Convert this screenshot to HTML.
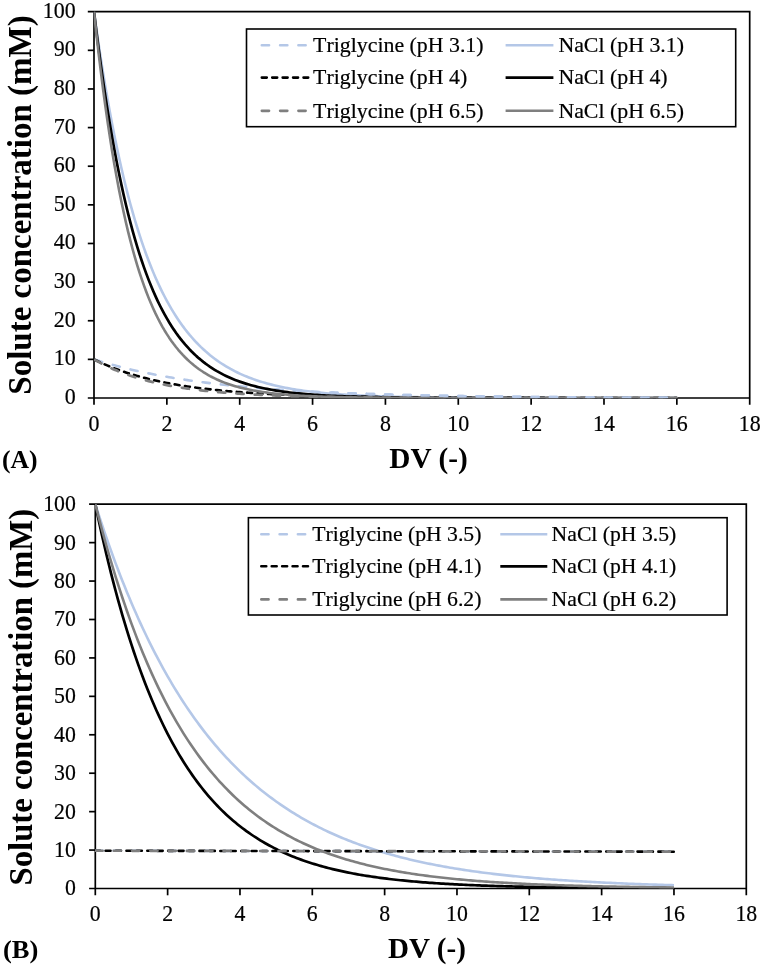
<!DOCTYPE html><html><head><meta charset="utf-8"><title>Diafiltration</title>
<style>html,body{margin:0;padding:0;background:#fff}svg{display:block}text{font-family:"Liberation Serif",serif;font-kerning:none}</style></head><body>
<svg width="762" height="967" viewBox="0 0 762 967">
<rect width="762" height="967" fill="#fff"/>
<g stroke="#000" stroke-width="1.7" fill="none">
<path d="M87.80 11.70 H749.70 V404.80"/>
<path d="M94.00 11.70 V404.80"/>
<path d="M87.80 398.00 H749.70"/>
<path d="M87.80 359.37 H94.00"/>
<path d="M87.80 320.74 H94.00"/>
<path d="M87.80 282.11 H94.00"/>
<path d="M87.80 243.48 H94.00"/>
<path d="M87.80 204.85 H94.00"/>
<path d="M87.80 166.22 H94.00"/>
<path d="M87.80 127.59 H94.00"/>
<path d="M87.80 88.96 H94.00"/>
<path d="M87.80 50.33 H94.00"/>
<path d="M166.86 398.00 V404.80"/>
<path d="M239.71 398.00 V404.80"/>
<path d="M312.57 398.00 V404.80"/>
<path d="M385.42 398.00 V404.80"/>
<path d="M458.28 398.00 V404.80"/>
<path d="M531.13 398.00 V404.80"/>
<path d="M603.99 398.00 V404.80"/>
<path d="M676.84 398.00 V404.80"/>
</g>
<clipPath id="clipA"><rect x="93.70" y="11.40" width="656.30" height="386.90"/></clipPath>
<g fill="none" stroke-linejoin="round" clip-path="url(#clipA)">
<path d="M94.00,359.37 L96.28,360.09 L98.55,360.79 L100.83,361.48 L103.11,362.16 L105.38,362.83 L107.66,363.48 L109.94,364.12 L112.21,364.75 L114.49,365.37 L116.77,365.97 L119.04,366.57 L121.32,367.15 L123.60,367.73 L125.87,368.29 L128.15,368.84 L130.43,369.38 L132.70,369.91 L134.98,370.44 L137.26,370.95 L139.53,371.45 L141.81,371.94 L144.09,372.43 L146.36,372.90 L148.64,373.37 L150.92,373.83 L153.20,374.28 L155.47,374.72 L157.75,375.15 L160.03,375.57 L162.30,375.99 L164.58,376.40 L166.86,376.80 L169.13,377.19 L171.41,377.58 L173.69,377.96 L175.96,378.33 L178.24,378.70 L180.52,379.06 L182.79,379.41 L185.07,379.75 L187.35,380.09 L189.62,380.42 L191.90,380.75 L194.18,381.07 L196.45,381.39 L198.73,381.69 L201.01,382.00 L203.28,382.29 L205.56,382.59 L207.84,382.87 L210.11,383.15 L212.39,383.43 L214.67,383.70 L216.94,383.97 L219.22,384.23 L221.50,384.48 L223.77,384.73 L226.05,384.98 L228.33,385.22 L230.60,385.46 L232.88,385.69 L235.16,385.92 L237.43,386.14 L239.71,386.36 L241.99,386.58 L244.26,386.79 L246.54,387.00 L248.82,387.21 L251.09,387.41 L253.37,387.60 L255.65,387.80 L257.93,387.99 L260.20,388.17 L262.48,388.35 L264.76,388.53 L267.03,388.71 L269.31,388.88 L271.59,389.05 L273.86,389.22 L276.14,389.38 L278.42,389.54 L280.69,389.70 L282.97,389.85 L285.25,390.00 L287.52,390.15 L289.80,390.30 L292.08,390.44 L294.35,390.58 L296.63,390.72 L298.91,390.85 L301.18,390.99 L303.46,391.12 L305.74,391.25 L308.01,391.37 L310.29,391.49 L312.57,391.61 L314.84,391.73 L317.12,391.85 L319.40,391.96 L321.67,392.08 L323.95,392.19 L326.23,392.29 L328.50,392.40 L330.78,392.50 L333.06,392.61 L335.33,392.71 L337.61,392.80 L339.89,392.90 L342.16,393.00 L344.44,393.09 L346.72,393.18 L348.99,393.27 L351.27,393.36 L353.55,393.44 L355.82,393.53 L358.10,393.61 L360.38,393.69 L362.65,393.77 L364.93,393.85 L367.21,393.93 L369.49,394.00 L371.76,394.08 L374.04,394.15 L376.32,394.22 L378.59,394.29 L380.87,394.36 L383.15,394.43 L385.42,394.50 L387.70,394.56 L389.98,394.62 L392.25,394.69 L394.53,394.75 L396.81,394.81 L399.08,394.87 L401.36,394.93 L403.64,394.98 L405.91,395.04 L408.19,395.09 L410.47,395.15 L412.74,395.20 L415.02,395.25 L417.30,395.30 L419.57,395.35 L421.85,395.40 L424.13,395.45 L426.40,395.50 L428.68,395.55 L430.96,395.59 L433.23,395.64 L435.51,395.68 L437.79,395.72 L440.06,395.77 L442.34,395.81 L444.62,395.85 L446.89,395.89 L449.17,395.93 L451.45,395.97 L453.72,396.00 L456.00,396.04 L458.28,396.08 L460.55,396.11 L462.83,396.15 L465.11,396.18 L467.38,396.22 L469.66,396.25 L471.94,396.28 L474.21,396.31 L476.49,396.34 L478.77,396.38 L481.05,396.41 L483.32,396.44 L485.60,396.46 L487.88,396.49 L490.15,396.52 L492.43,396.55 L494.71,396.58 L496.98,396.60 L499.26,396.63 L501.54,396.65 L503.81,396.68 L506.09,396.70 L508.37,396.73 L510.64,396.75 L512.92,396.77 L515.20,396.80 L517.47,396.82 L519.75,396.84 L522.03,396.86 L524.30,396.88 L526.58,396.90 L528.86,396.92 L531.13,396.94 L533.41,396.96 L535.69,396.98 L537.96,397.00 L540.24,397.02 L542.52,397.04 L544.79,397.06 L547.07,397.07 L549.35,397.09 L551.62,397.11 L553.90,397.12 L556.18,397.14 L558.45,397.16 L560.73,397.17 L563.01,397.19 L565.28,397.20 L567.56,397.22 L569.84,397.23 L572.11,397.25 L574.39,397.26 L576.67,397.27 L578.94,397.29 L581.22,397.30 L583.50,397.31 L585.77,397.33 L588.05,397.34 L590.33,397.35 L592.61,397.36 L594.88,397.38 L597.16,397.39 L599.44,397.40 L601.71,397.41 L603.99,397.42 L606.27,397.43 L608.54,397.44 L610.82,397.45 L613.10,397.46 L615.37,397.47 L617.65,397.48 L619.93,397.49 L622.20,397.50 L624.48,397.51 L626.76,397.52 L629.03,397.53 L631.31,397.54 L633.59,397.55 L635.86,397.55 L638.14,397.56 L640.42,397.57 L642.69,397.58 L644.97,397.59 L647.25,397.59 L649.52,397.60 L651.80,397.61 L654.08,397.62 L656.35,397.62 L658.63,397.63 L660.91,397.64 L663.18,397.64 L665.46,397.65 L667.74,397.66 L670.01,397.66 L672.29,397.67 L674.57,397.68 L676.84,397.68" stroke="#b4c7e7" stroke-width="2.6" stroke-linecap="round" stroke-dasharray="7.25 11.05" stroke-dashoffset="-1.30"/>
<path d="M94.00,11.70 L96.28,28.01 L98.55,43.62 L100.83,58.58 L103.11,72.91 L105.38,86.63 L107.66,99.77 L109.94,112.36 L112.21,124.41 L114.49,135.96 L116.77,147.02 L119.04,157.62 L121.32,167.76 L123.60,177.48 L125.87,186.79 L128.15,195.70 L130.43,204.24 L132.70,212.42 L134.98,220.25 L137.26,227.75 L139.53,234.94 L141.81,241.82 L144.09,248.42 L146.36,254.73 L148.64,260.78 L150.92,266.57 L153.20,272.12 L155.47,277.43 L157.75,282.52 L160.03,287.39 L162.30,292.06 L164.58,296.53 L166.86,300.82 L169.13,304.92 L171.41,308.85 L173.69,312.61 L175.96,316.21 L178.24,319.67 L180.52,322.97 L182.79,326.14 L185.07,329.17 L187.35,332.08 L189.62,334.86 L191.90,337.52 L194.18,340.08 L196.45,342.52 L198.73,344.86 L201.01,347.11 L203.28,349.25 L205.56,351.31 L207.84,353.28 L210.11,355.17 L212.39,356.98 L214.67,358.71 L216.94,360.37 L219.22,361.96 L221.50,363.48 L223.77,364.93 L226.05,366.33 L228.33,367.67 L230.60,368.95 L232.88,370.17 L235.16,371.35 L237.43,372.47 L239.71,373.55 L241.99,374.58 L244.26,375.57 L246.54,376.52 L248.82,377.42 L251.09,378.29 L253.37,379.12 L255.65,379.92 L257.93,380.68 L260.20,381.42 L262.48,382.12 L264.76,382.79 L267.03,383.43 L269.31,384.04 L271.59,384.63 L273.86,385.20 L276.14,385.74 L278.42,386.25 L280.69,386.75 L282.97,387.22 L285.25,387.68 L287.52,388.12 L289.80,388.53 L292.08,388.93 L294.35,389.31 L296.63,389.68 L298.91,390.03 L301.18,390.37 L303.46,390.69 L305.74,391.00 L308.01,391.29 L310.29,391.58 L312.57,391.85 L314.84,392.11 L317.12,392.36 L319.40,392.60 L321.67,392.82 L323.95,393.04 L326.23,393.25 L328.50,393.45 L330.78,393.64 L333.06,393.83 L335.33,394.00 L337.61,394.17 L339.89,394.33 L342.16,394.49 L344.44,394.64 L346.72,394.78 L348.99,394.91 L351.27,395.05 L353.55,395.17 L355.82,395.29 L358.10,395.40 L360.38,395.51 L362.65,395.62 L364.93,395.72 L367.21,395.82 L369.49,395.91 L371.76,396.00 L374.04,396.08 L376.32,396.16 L378.59,396.24 L380.87,396.31 L383.15,396.38 L385.42,396.45 L387.70,396.52 L389.98,396.58 L392.25,396.64 L394.53,396.70 L396.81,396.75 L399.08,396.81 L401.36,396.86 L403.64,396.90 L405.91,396.95 L408.19,396.99 L410.47,397.04 L412.74,397.08 L415.02,397.12 L417.30,397.15 L419.57,397.19 L421.85,397.22 L424.13,397.26 L426.40,397.29 L428.68,397.32 L430.96,397.35 L433.23,397.37 L435.51,397.40 L437.79,397.43 L440.06,397.45 L442.34,397.47 L444.62,397.50 L446.89,397.52 L449.17,397.54 L451.45,397.56 L453.72,397.58 L456.00,397.59 L458.28,397.61 L460.55,397.63 L462.83,397.64 L465.11,397.66 L467.38,397.67 L469.66,397.69 L471.94,397.70 L474.21,397.71 L476.49,397.72 L478.77,397.74 L481.05,397.75 L483.32,397.76 L485.60,397.77 L487.88,397.78 L490.15,397.79 L492.43,397.80 L494.71,397.80 L496.98,397.81 L499.26,397.82 L501.54,397.83 L503.81,397.84 L506.09,397.84 L508.37,397.85 L510.64,397.86 L512.92,397.86 L515.20,397.87 L517.47,397.87 L519.75,397.88 L522.03,397.88 L524.30,397.89 L526.58,397.89 L528.86,397.90 L531.13,397.90 L533.41,397.91 L535.69,397.91 L537.96,397.91 L540.24,397.92 L542.52,397.92 L544.79,397.92 L547.07,397.93 L549.35,397.93 L551.62,397.93 L553.90,397.94 L556.18,397.94 L558.45,397.94 L560.73,397.94 L563.01,397.95 L565.28,397.95 L567.56,397.95 L569.84,397.95 L572.11,397.95 L574.39,397.96 L576.67,397.96 L578.94,397.96 L581.22,397.96 L583.50,397.96 L585.77,397.97 L588.05,397.97 L590.33,397.97 L592.61,397.97 L594.88,397.97 L597.16,397.97 L599.44,397.97 L601.71,397.97 L603.99,397.98 L606.27,397.98 L608.54,397.98 L610.82,397.98 L613.10,397.98 L615.37,397.98 L617.65,397.98 L619.93,397.98 L622.20,397.98 L624.48,397.98 L626.76,397.98 L629.03,397.98 L631.31,397.99 L633.59,397.99 L635.86,397.99 L638.14,397.99 L640.42,397.99 L642.69,397.99 L644.97,397.99 L647.25,397.99 L649.52,397.99 L651.80,397.99 L654.08,397.99 L656.35,397.99 L658.63,397.99 L660.91,397.99 L663.18,397.99 L665.46,397.99 L667.74,397.99 L670.01,397.99 L672.29,397.99 L674.57,397.99 L676.84,397.99" stroke="#b4c7e7" stroke-width="2.6"/>
<path d="M94.00,359.37 L96.28,360.49 L98.55,361.57 L100.83,362.63 L103.11,363.65 L105.38,364.65 L107.66,365.61 L109.94,366.55 L112.21,367.46 L114.49,368.34 L116.77,369.20 L119.04,370.04 L121.32,370.85 L123.60,371.63 L125.87,372.40 L128.15,373.14 L130.43,373.86 L132.70,374.56 L134.98,375.23 L137.26,375.89 L139.53,376.53 L141.81,377.15 L144.09,377.76 L146.36,378.34 L148.64,378.91 L150.92,379.47 L153.20,380.00 L155.47,380.52 L157.75,381.03 L160.03,381.52 L162.30,382.00 L164.58,382.46 L166.86,382.91 L169.13,383.35 L171.41,383.77 L173.69,384.18 L175.96,384.58 L178.24,384.97 L180.52,385.35 L182.79,385.71 L185.07,386.07 L187.35,386.42 L189.62,386.75 L191.90,387.08 L194.18,387.39 L196.45,387.70 L198.73,388.00 L201.01,388.29 L203.28,388.57 L205.56,388.84 L207.84,389.11 L210.11,389.36 L212.39,389.61 L214.67,389.86 L216.94,390.09 L219.22,390.32 L221.50,390.54 L223.77,390.76 L226.05,390.97 L228.33,391.17 L230.60,391.37 L232.88,391.56 L235.16,391.75 L237.43,391.93 L239.71,392.11 L241.99,392.28 L244.26,392.44 L246.54,392.60 L248.82,392.76 L251.09,392.91 L253.37,393.06 L255.65,393.20 L257.93,393.34 L260.20,393.47 L262.48,393.61 L264.76,393.73 L267.03,393.86 L269.31,393.98 L271.59,394.09 L273.86,394.21 L276.14,394.32 L278.42,394.42 L280.69,394.53 L282.97,394.63 L285.25,394.72 L287.52,394.82 L289.80,394.91 L292.08,395.00 L294.35,395.09 L296.63,395.17 L298.91,395.25 L301.18,395.33 L303.46,395.41 L305.74,395.49 L308.01,395.56 L310.29,395.63 L312.57,395.70 L314.84,395.76 L317.12,395.83 L319.40,395.89 L321.67,395.95 L323.95,396.01 L326.23,396.07 L328.50,396.13 L330.78,396.18 L333.06,396.23 L335.33,396.28 L337.61,396.33 L339.89,396.38 L342.16,396.43 L344.44,396.47 L346.72,396.52 L348.99,396.56 L351.27,396.60 L353.55,396.64 L355.82,396.68 L358.10,396.72 L360.38,396.76 L362.65,396.79 L364.93,396.83 L367.21,396.86 L369.49,396.90 L371.76,396.93 L374.04,396.96 L376.32,396.99 L378.59,397.02 L380.87,397.05 L383.15,397.07 L385.42,397.10 L387.70,397.13 L389.98,397.15 L392.25,397.18 L394.53,397.20 L396.81,397.22 L399.08,397.25 L401.36,397.27 L403.64,397.29 L405.91,397.31 L408.19,397.33 L410.47,397.35 L412.74,397.37 L415.02,397.39 L417.30,397.40 L419.57,397.42 L421.85,397.44 L424.13,397.45 L426.40,397.47 L428.68,397.49 L430.96,397.50 L433.23,397.51 L435.51,397.53 L437.79,397.54 L440.06,397.56 L442.34,397.57 L444.62,397.58 L446.89,397.59 L449.17,397.60 L451.45,397.62 L453.72,397.63 L456.00,397.64 L458.28,397.65 L460.55,397.66 L462.83,397.67 L465.11,397.68 L467.38,397.69 L469.66,397.70 L471.94,397.71 L474.21,397.71 L476.49,397.72 L478.77,397.73 L481.05,397.74 L483.32,397.75 L485.60,397.75 L487.88,397.76 L490.15,397.77 L492.43,397.77 L494.71,397.78 L496.98,397.79 L499.26,397.79 L501.54,397.80 L503.81,397.80 L506.09,397.81 L508.37,397.82 L510.64,397.82 L512.92,397.83 L515.20,397.83 L517.47,397.84 L519.75,397.84 L522.03,397.85 L524.30,397.85 L526.58,397.85 L528.86,397.86 L531.13,397.86 L533.41,397.87 L535.69,397.87 L537.96,397.87 L540.24,397.88 L542.52,397.88 L544.79,397.88 L547.07,397.89 L549.35,397.89 L551.62,397.89 L553.90,397.90 L556.18,397.90 L558.45,397.90 L560.73,397.91 L563.01,397.91 L565.28,397.91 L567.56,397.91 L569.84,397.92 L572.11,397.92 L574.39,397.92 L576.67,397.92 L578.94,397.93 L581.22,397.93 L583.50,397.93 L585.77,397.93 L588.05,397.93 L590.33,397.94 L592.61,397.94 L594.88,397.94 L597.16,397.94 L599.44,397.94 L601.71,397.94 L603.99,397.95 L606.27,397.95 L608.54,397.95 L610.82,397.95 L613.10,397.95 L615.37,397.95 L617.65,397.96 L619.93,397.96 L622.20,397.96 L624.48,397.96 L626.76,397.96 L629.03,397.96 L631.31,397.96 L633.59,397.96 L635.86,397.96 L638.14,397.97 L640.42,397.97 L642.69,397.97 L644.97,397.97 L647.25,397.97 L649.52,397.97 L651.80,397.97 L654.08,397.97 L656.35,397.97 L658.63,397.97 L660.91,397.97 L663.18,397.98 L665.46,397.98 L667.74,397.98 L670.01,397.98 L672.29,397.98 L674.57,397.98 L676.84,397.98" stroke="#000" stroke-width="2.6" stroke-linecap="round" stroke-dasharray="4.95 5.48" stroke-dashoffset="-1.30"/>
<path d="M94.00,11.70 L96.28,30.31 L98.55,48.02 L100.83,64.88 L103.11,80.93 L105.38,96.21 L107.66,110.75 L109.94,124.59 L112.21,137.76 L114.49,150.29 L116.77,162.23 L119.04,173.59 L121.32,184.40 L123.60,194.69 L125.87,204.48 L128.15,213.81 L130.43,222.68 L132.70,231.13 L134.98,239.17 L137.26,246.82 L139.53,254.10 L141.81,261.03 L144.09,267.63 L146.36,273.91 L148.64,279.89 L150.92,285.58 L153.20,291.00 L155.47,296.15 L157.75,301.06 L160.03,305.73 L162.30,310.17 L164.58,314.40 L166.86,318.43 L169.13,322.27 L171.41,325.91 L173.69,329.39 L175.96,332.69 L178.24,335.84 L180.52,338.83 L182.79,341.68 L185.07,344.40 L187.35,346.98 L189.62,349.44 L191.90,351.78 L194.18,354.00 L196.45,356.12 L198.73,358.14 L201.01,360.06 L203.28,361.89 L205.56,363.63 L207.84,365.28 L210.11,366.86 L212.39,368.36 L214.67,369.79 L216.94,371.15 L219.22,372.44 L221.50,373.67 L223.77,374.84 L226.05,375.96 L228.33,377.02 L230.60,378.03 L232.88,378.99 L235.16,379.91 L237.43,380.78 L239.71,381.61 L241.99,382.40 L244.26,383.15 L246.54,383.87 L248.82,384.55 L251.09,385.20 L253.37,385.81 L255.65,386.40 L257.93,386.96 L260.20,387.49 L262.48,388.00 L264.76,388.48 L267.03,388.94 L269.31,389.37 L271.59,389.79 L273.86,390.19 L276.14,390.56 L278.42,390.92 L280.69,391.26 L282.97,391.59 L285.25,391.89 L287.52,392.19 L289.80,392.47 L292.08,392.74 L294.35,392.99 L296.63,393.23 L298.91,393.46 L301.18,393.68 L303.46,393.89 L305.74,394.09 L308.01,394.27 L310.29,394.45 L312.57,394.62 L314.84,394.79 L317.12,394.94 L319.40,395.09 L321.67,395.23 L323.95,395.36 L326.23,395.49 L328.50,395.61 L330.78,395.73 L333.06,395.84 L335.33,395.94 L337.61,396.04 L339.89,396.13 L342.16,396.22 L344.44,396.31 L346.72,396.39 L348.99,396.47 L351.27,396.54 L353.55,396.61 L355.82,396.68 L358.10,396.74 L360.38,396.80 L362.65,396.86 L364.93,396.92 L367.21,396.97 L369.49,397.02 L371.76,397.06 L374.04,397.11 L376.32,397.15 L378.59,397.19 L380.87,397.23 L383.15,397.27 L385.42,397.30 L387.70,397.34 L389.98,397.37 L392.25,397.40 L394.53,397.43 L396.81,397.46 L399.08,397.48 L401.36,397.51 L403.64,397.53 L405.91,397.55 L408.19,397.58 L410.47,397.60 L412.74,397.62 L415.02,397.63 L417.30,397.65 L419.57,397.67 L421.85,397.68 L424.13,397.70 L426.40,397.71 L428.68,397.73 L430.96,397.74 L433.23,397.75 L435.51,397.77 L437.79,397.78 L440.06,397.79 L442.34,397.80 L444.62,397.81 L446.89,397.82 L449.17,397.83 L451.45,397.83 L453.72,397.84 L456.00,397.85 L458.28,397.86 L460.55,397.86 L462.83,397.87 L465.11,397.88 L467.38,397.88 L469.66,397.89 L471.94,397.89 L474.21,397.90 L476.49,397.90 L478.77,397.91 L481.05,397.91 L483.32,397.92 L485.60,397.92 L487.88,397.92 L490.15,397.93 L492.43,397.93 L494.71,397.94 L496.98,397.94 L499.26,397.94 L501.54,397.94 L503.81,397.95 L506.09,397.95 L508.37,397.95 L510.64,397.95 L512.92,397.96 L515.20,397.96 L517.47,397.96 L519.75,397.96 L522.03,397.96 L524.30,397.97 L526.58,397.97 L528.86,397.97 L531.13,397.97 L533.41,397.97 L535.69,397.97 L537.96,397.97 L540.24,397.98 L542.52,397.98 L544.79,397.98 L547.07,397.98 L549.35,397.98 L551.62,397.98 L553.90,397.98 L556.18,397.98 L558.45,397.98 L560.73,397.98 L563.01,397.99 L565.28,397.99 L567.56,397.99 L569.84,397.99 L572.11,397.99 L574.39,397.99 L576.67,397.99 L578.94,397.99 L581.22,397.99 L583.50,397.99 L585.77,397.99 L588.05,397.99 L590.33,397.99 L592.61,397.99 L594.88,397.99 L597.16,397.99 L599.44,397.99 L601.71,397.99 L603.99,397.99 L606.27,397.99 L608.54,397.99 L610.82,397.99 L613.10,398.00 L615.37,398.00 L617.65,398.00 L619.93,398.00 L622.20,398.00 L624.48,398.00 L626.76,398.00 L629.03,398.00 L631.31,398.00 L633.59,398.00 L635.86,398.00 L638.14,398.00 L640.42,398.00 L642.69,398.00 L644.97,398.00 L647.25,398.00 L649.52,398.00 L651.80,398.00 L654.08,398.00 L656.35,398.00 L658.63,398.00 L660.91,398.00 L663.18,398.00 L665.46,398.00 L667.74,398.00 L670.01,398.00 L672.29,398.00 L674.57,398.00 L676.84,398.00" stroke="#000" stroke-width="2.7"/>
<path d="M94.00,359.37 L96.28,360.68 L98.55,361.94 L100.83,363.16 L103.11,364.33 L105.38,365.47 L107.66,366.57 L109.94,367.63 L112.21,368.66 L114.49,369.65 L116.77,370.61 L119.04,371.53 L121.32,372.43 L123.60,373.29 L125.87,374.13 L128.15,374.93 L130.43,375.71 L132.70,376.47 L134.98,377.19 L137.26,377.90 L139.53,378.58 L141.81,379.23 L144.09,379.87 L146.36,380.48 L148.64,381.07 L150.92,381.64 L153.20,382.20 L155.47,382.73 L157.75,383.25 L160.03,383.74 L162.30,384.23 L164.58,384.69 L166.86,385.14 L169.13,385.58 L171.41,386.00 L173.69,386.40 L175.96,386.79 L178.24,387.17 L180.52,387.54 L182.79,387.89 L185.07,388.23 L187.35,388.56 L189.62,388.88 L191.90,389.19 L194.18,389.49 L196.45,389.78 L198.73,390.05 L201.01,390.32 L203.28,390.58 L205.56,390.83 L207.84,391.07 L210.11,391.31 L212.39,391.53 L214.67,391.75 L216.94,391.96 L219.22,392.17 L221.50,392.36 L223.77,392.56 L226.05,392.74 L228.33,392.92 L230.60,393.09 L232.88,393.25 L235.16,393.42 L237.43,393.57 L239.71,393.72 L241.99,393.86 L244.26,394.00 L246.54,394.14 L248.82,394.27 L251.09,394.40 L253.37,394.52 L255.65,394.64 L257.93,394.75 L260.20,394.86 L262.48,394.96 L264.76,395.07 L267.03,395.17 L269.31,395.26 L271.59,395.35 L273.86,395.44 L276.14,395.53 L278.42,395.61 L280.69,395.69 L282.97,395.77 L285.25,395.85 L287.52,395.92 L289.80,395.99 L292.08,396.06 L294.35,396.12 L296.63,396.19 L298.91,396.25 L301.18,396.31 L303.46,396.37 L305.74,396.42 L308.01,396.47 L310.29,396.53 L312.57,396.58 L314.84,396.62 L317.12,396.67 L319.40,396.71 L321.67,396.76 L323.95,396.80 L326.23,396.84 L328.50,396.88 L330.78,396.92 L333.06,396.95 L335.33,396.99 L337.61,397.02 L339.89,397.06 L342.16,397.09 L344.44,397.12 L346.72,397.15 L348.99,397.18 L351.27,397.21 L353.55,397.23 L355.82,397.26 L358.10,397.28 L360.38,397.31 L362.65,397.33 L364.93,397.35 L367.21,397.38 L369.49,397.40 L371.76,397.42 L374.04,397.44 L376.32,397.46 L378.59,397.47 L380.87,397.49 L383.15,397.51 L385.42,397.53 L387.70,397.54 L389.98,397.56 L392.25,397.57 L394.53,397.59 L396.81,397.60 L399.08,397.61 L401.36,397.63 L403.64,397.64 L405.91,397.65 L408.19,397.66 L410.47,397.68 L412.74,397.69 L415.02,397.70 L417.30,397.71 L419.57,397.72 L421.85,397.73 L424.13,397.74 L426.40,397.74 L428.68,397.75 L430.96,397.76 L433.23,397.77 L435.51,397.78 L437.79,397.78 L440.06,397.79 L442.34,397.80 L444.62,397.81 L446.89,397.81 L449.17,397.82 L451.45,397.82 L453.72,397.83 L456.00,397.84 L458.28,397.84 L460.55,397.85 L462.83,397.85 L465.11,397.86 L467.38,397.86 L469.66,397.87 L471.94,397.87 L474.21,397.88 L476.49,397.88 L478.77,397.88 L481.05,397.89 L483.32,397.89 L485.60,397.90 L487.88,397.90 L490.15,397.90 L492.43,397.91 L494.71,397.91 L496.98,397.91 L499.26,397.91 L501.54,397.92 L503.81,397.92 L506.09,397.92 L508.37,397.93 L510.64,397.93 L512.92,397.93 L515.20,397.93 L517.47,397.94 L519.75,397.94 L522.03,397.94 L524.30,397.94 L526.58,397.94 L528.86,397.95 L531.13,397.95 L533.41,397.95 L535.69,397.95 L537.96,397.95 L540.24,397.95 L542.52,397.96 L544.79,397.96 L547.07,397.96 L549.35,397.96 L551.62,397.96 L553.90,397.96 L556.18,397.96 L558.45,397.97 L560.73,397.97 L563.01,397.97 L565.28,397.97 L567.56,397.97 L569.84,397.97 L572.11,397.97 L574.39,397.97 L576.67,397.97 L578.94,397.97 L581.22,397.98 L583.50,397.98 L585.77,397.98 L588.05,397.98 L590.33,397.98 L592.61,397.98 L594.88,397.98 L597.16,397.98 L599.44,397.98 L601.71,397.98 L603.99,397.98 L606.27,397.98 L608.54,397.98 L610.82,397.98 L613.10,397.98 L615.37,397.99 L617.65,397.99 L619.93,397.99 L622.20,397.99 L624.48,397.99 L626.76,397.99 L629.03,397.99 L631.31,397.99 L633.59,397.99 L635.86,397.99 L638.14,397.99 L640.42,397.99 L642.69,397.99 L644.97,397.99 L647.25,397.99 L649.52,397.99 L651.80,397.99 L654.08,397.99 L656.35,397.99 L658.63,397.99 L660.91,397.99 L663.18,397.99 L665.46,397.99 L667.74,397.99 L670.01,397.99 L672.29,397.99 L674.57,397.99 L676.84,397.99" stroke="#7f7f7f" stroke-width="2.7" stroke-linecap="round" stroke-dasharray="7.15 11.15" stroke-dashoffset="-1.35"/>
<path d="M94.00,11.70 L96.28,32.83 L98.55,52.80 L100.83,71.68 L103.11,89.53 L105.38,106.41 L107.66,122.35 L109.94,137.43 L112.21,151.68 L114.49,165.16 L116.77,177.89 L119.04,189.93 L121.32,201.31 L123.60,212.07 L125.87,222.24 L128.15,231.85 L130.43,240.94 L132.70,249.53 L134.98,257.65 L137.26,265.33 L139.53,272.59 L141.81,279.45 L144.09,285.93 L146.36,292.06 L148.64,297.86 L150.92,303.33 L153.20,308.51 L155.47,313.41 L157.75,318.03 L160.03,322.41 L162.30,326.54 L164.58,330.45 L166.86,334.15 L169.13,337.64 L171.41,340.94 L173.69,344.06 L175.96,347.01 L178.24,349.80 L180.52,352.44 L182.79,354.93 L185.07,357.28 L187.35,359.51 L189.62,361.62 L191.90,363.61 L194.18,365.49 L196.45,367.27 L198.73,368.95 L201.01,370.54 L203.28,372.04 L205.56,373.46 L207.84,374.80 L210.11,376.07 L212.39,377.27 L214.67,378.40 L216.94,379.48 L219.22,380.49 L221.50,381.45 L223.77,382.35 L226.05,383.21 L228.33,384.02 L230.60,384.78 L232.88,385.50 L235.16,386.19 L237.43,386.83 L239.71,387.44 L241.99,388.02 L244.26,388.57 L246.54,389.08 L248.82,389.57 L251.09,390.03 L253.37,390.47 L255.65,390.88 L257.93,391.27 L260.20,391.64 L262.48,391.99 L264.76,392.31 L267.03,392.63 L269.31,392.92 L271.59,393.20 L273.86,393.46 L276.14,393.71 L278.42,393.94 L280.69,394.17 L282.97,394.37 L285.25,394.57 L287.52,394.76 L289.80,394.94 L292.08,395.11 L294.35,395.26 L296.63,395.41 L298.91,395.55 L301.18,395.69 L303.46,395.82 L305.74,395.93 L308.01,396.05 L310.29,396.15 L312.57,396.26 L314.84,396.35 L317.12,396.44 L319.40,396.53 L321.67,396.61 L323.95,396.68 L326.23,396.76 L328.50,396.82 L330.78,396.89 L333.06,396.95 L335.33,397.01 L337.61,397.06 L339.89,397.11 L342.16,397.16 L344.44,397.21 L346.72,397.25 L348.99,397.29 L351.27,397.33 L353.55,397.37 L355.82,397.40 L358.10,397.43 L360.38,397.46 L362.65,397.49 L364.93,397.52 L367.21,397.55 L369.49,397.57 L371.76,397.60 L374.04,397.62 L376.32,397.64 L378.59,397.66 L380.87,397.68 L383.15,397.69 L385.42,397.71 L387.70,397.73 L389.98,397.74 L392.25,397.76 L394.53,397.77 L396.81,397.78 L399.08,397.79 L401.36,397.81 L403.64,397.82 L405.91,397.83 L408.19,397.84 L410.47,397.84 L412.74,397.85 L415.02,397.86 L417.30,397.87 L419.57,397.88 L421.85,397.88 L424.13,397.89 L426.40,397.90 L428.68,397.90 L430.96,397.91 L433.23,397.91 L435.51,397.92 L437.79,397.92 L440.06,397.93 L442.34,397.93 L444.62,397.93 L446.89,397.94 L449.17,397.94 L451.45,397.94 L453.72,397.95 L456.00,397.95 L458.28,397.95 L460.55,397.95 L462.83,397.96 L465.11,397.96 L467.38,397.96 L469.66,397.96 L471.94,397.97 L474.21,397.97 L476.49,397.97 L478.77,397.97 L481.05,397.97 L483.32,397.97 L485.60,397.98 L487.88,397.98 L490.15,397.98 L492.43,397.98 L494.71,397.98 L496.98,397.98 L499.26,397.98 L501.54,397.98 L503.81,397.98 L506.09,397.99 L508.37,397.99 L510.64,397.99 L512.92,397.99 L515.20,397.99 L517.47,397.99 L519.75,397.99 L522.03,397.99 L524.30,397.99 L526.58,397.99 L528.86,397.99 L531.13,397.99 L533.41,397.99 L535.69,397.99 L537.96,397.99 L540.24,397.99 L542.52,397.99 L544.79,397.99 L547.07,397.99 L549.35,397.99 L551.62,398.00 L553.90,398.00 L556.18,398.00 L558.45,398.00 L560.73,398.00 L563.01,398.00 L565.28,398.00 L567.56,398.00 L569.84,398.00 L572.11,398.00 L574.39,398.00 L576.67,398.00 L578.94,398.00 L581.22,398.00 L583.50,398.00 L585.77,398.00 L588.05,398.00 L590.33,398.00 L592.61,398.00 L594.88,398.00 L597.16,398.00 L599.44,398.00 L601.71,398.00 L603.99,398.00 L606.27,398.00 L608.54,398.00 L610.82,398.00 L613.10,398.00 L615.37,398.00 L617.65,398.00 L619.93,398.00 L622.20,398.00 L624.48,398.00 L626.76,398.00 L629.03,398.00 L631.31,398.00 L633.59,398.00 L635.86,398.00 L638.14,398.00 L640.42,398.00 L642.69,398.00 L644.97,398.00 L647.25,398.00 L649.52,398.00 L651.80,398.00 L654.08,398.00 L656.35,398.00 L658.63,398.00 L660.91,398.00 L663.18,398.00 L665.46,398.00 L667.74,398.00 L670.01,398.00 L672.29,398.00 L674.57,398.00 L676.84,398.00" stroke="#7f7f7f" stroke-width="2.6"/>
<clipPath id="clipoA"><rect x="330.78" y="11.70" width="418.92" height="386.60"/></clipPath>
<path d="M94.00,359.37 L96.28,360.09 L98.55,360.79 L100.83,361.48 L103.11,362.16 L105.38,362.83 L107.66,363.48 L109.94,364.12 L112.21,364.75 L114.49,365.37 L116.77,365.97 L119.04,366.57 L121.32,367.15 L123.60,367.73 L125.87,368.29 L128.15,368.84 L130.43,369.38 L132.70,369.91 L134.98,370.44 L137.26,370.95 L139.53,371.45 L141.81,371.94 L144.09,372.43 L146.36,372.90 L148.64,373.37 L150.92,373.83 L153.20,374.28 L155.47,374.72 L157.75,375.15 L160.03,375.57 L162.30,375.99 L164.58,376.40 L166.86,376.80 L169.13,377.19 L171.41,377.58 L173.69,377.96 L175.96,378.33 L178.24,378.70 L180.52,379.06 L182.79,379.41 L185.07,379.75 L187.35,380.09 L189.62,380.42 L191.90,380.75 L194.18,381.07 L196.45,381.39 L198.73,381.69 L201.01,382.00 L203.28,382.29 L205.56,382.59 L207.84,382.87 L210.11,383.15 L212.39,383.43 L214.67,383.70 L216.94,383.97 L219.22,384.23 L221.50,384.48 L223.77,384.73 L226.05,384.98 L228.33,385.22 L230.60,385.46 L232.88,385.69 L235.16,385.92 L237.43,386.14 L239.71,386.36 L241.99,386.58 L244.26,386.79 L246.54,387.00 L248.82,387.21 L251.09,387.41 L253.37,387.60 L255.65,387.80 L257.93,387.99 L260.20,388.17 L262.48,388.35 L264.76,388.53 L267.03,388.71 L269.31,388.88 L271.59,389.05 L273.86,389.22 L276.14,389.38 L278.42,389.54 L280.69,389.70 L282.97,389.85 L285.25,390.00 L287.52,390.15 L289.80,390.30 L292.08,390.44 L294.35,390.58 L296.63,390.72 L298.91,390.85 L301.18,390.99 L303.46,391.12 L305.74,391.25 L308.01,391.37 L310.29,391.49 L312.57,391.61 L314.84,391.73 L317.12,391.85 L319.40,391.96 L321.67,392.08 L323.95,392.19 L326.23,392.29 L328.50,392.40 L330.78,392.50 L333.06,392.61 L335.33,392.71 L337.61,392.80 L339.89,392.90 L342.16,393.00 L344.44,393.09 L346.72,393.18 L348.99,393.27 L351.27,393.36 L353.55,393.44 L355.82,393.53 L358.10,393.61 L360.38,393.69 L362.65,393.77 L364.93,393.85 L367.21,393.93 L369.49,394.00 L371.76,394.08 L374.04,394.15 L376.32,394.22 L378.59,394.29 L380.87,394.36 L383.15,394.43 L385.42,394.50 L387.70,394.56 L389.98,394.62 L392.25,394.69 L394.53,394.75 L396.81,394.81 L399.08,394.87 L401.36,394.93 L403.64,394.98 L405.91,395.04 L408.19,395.09 L410.47,395.15 L412.74,395.20 L415.02,395.25 L417.30,395.30 L419.57,395.35 L421.85,395.40 L424.13,395.45 L426.40,395.50 L428.68,395.55 L430.96,395.59 L433.23,395.64 L435.51,395.68 L437.79,395.72 L440.06,395.77 L442.34,395.81 L444.62,395.85 L446.89,395.89 L449.17,395.93 L451.45,395.97 L453.72,396.00 L456.00,396.04 L458.28,396.08 L460.55,396.11 L462.83,396.15 L465.11,396.18 L467.38,396.22 L469.66,396.25 L471.94,396.28 L474.21,396.31 L476.49,396.34 L478.77,396.38 L481.05,396.41 L483.32,396.44 L485.60,396.46 L487.88,396.49 L490.15,396.52 L492.43,396.55 L494.71,396.58 L496.98,396.60 L499.26,396.63 L501.54,396.65 L503.81,396.68 L506.09,396.70 L508.37,396.73 L510.64,396.75 L512.92,396.77 L515.20,396.80 L517.47,396.82 L519.75,396.84 L522.03,396.86 L524.30,396.88 L526.58,396.90 L528.86,396.92 L531.13,396.94 L533.41,396.96 L535.69,396.98 L537.96,397.00 L540.24,397.02 L542.52,397.04 L544.79,397.06 L547.07,397.07 L549.35,397.09 L551.62,397.11 L553.90,397.12 L556.18,397.14 L558.45,397.16 L560.73,397.17 L563.01,397.19 L565.28,397.20 L567.56,397.22 L569.84,397.23 L572.11,397.25 L574.39,397.26 L576.67,397.27 L578.94,397.29 L581.22,397.30 L583.50,397.31 L585.77,397.33 L588.05,397.34 L590.33,397.35 L592.61,397.36 L594.88,397.38 L597.16,397.39 L599.44,397.40 L601.71,397.41 L603.99,397.42 L606.27,397.43 L608.54,397.44 L610.82,397.45 L613.10,397.46 L615.37,397.47 L617.65,397.48 L619.93,397.49 L622.20,397.50 L624.48,397.51 L626.76,397.52 L629.03,397.53 L631.31,397.54 L633.59,397.55 L635.86,397.55 L638.14,397.56 L640.42,397.57 L642.69,397.58 L644.97,397.59 L647.25,397.59 L649.52,397.60 L651.80,397.61 L654.08,397.62 L656.35,397.62 L658.63,397.63 L660.91,397.64 L663.18,397.64 L665.46,397.65 L667.74,397.66 L670.01,397.66 L672.29,397.67 L674.57,397.68 L676.84,397.68" stroke="#b4c7e7" stroke-width="2.6" stroke-linecap="round" stroke-dasharray="7.25 11.05" stroke-dashoffset="-1.30" clip-path="url(#clipoA)"/>
</g>
<g font-size="22.99" fill="#000" stroke="#000" stroke-width="0.2">
<text transform="translate(75.70 404.00) scale(0.955 1)" text-anchor="end">0</text>
<text transform="translate(75.70 365.37) scale(0.955 1)" text-anchor="end">10</text>
<text transform="translate(75.70 326.74) scale(0.955 1)" text-anchor="end">20</text>
<text transform="translate(75.70 288.11) scale(0.955 1)" text-anchor="end">30</text>
<text transform="translate(75.70 249.48) scale(0.955 1)" text-anchor="end">40</text>
<text transform="translate(75.70 210.85) scale(0.955 1)" text-anchor="end">50</text>
<text transform="translate(75.70 172.22) scale(0.955 1)" text-anchor="end">60</text>
<text transform="translate(75.70 133.59) scale(0.955 1)" text-anchor="end">70</text>
<text transform="translate(75.70 94.96) scale(0.955 1)" text-anchor="end">80</text>
<text transform="translate(75.70 56.33) scale(0.955 1)" text-anchor="end">90</text>
<text transform="translate(75.70 17.70) scale(0.955 1)" text-anchor="end">100</text>
<text transform="translate(94.00 430.80) scale(0.955 1)" text-anchor="middle">0</text>
<text transform="translate(166.86 430.80) scale(0.955 1)" text-anchor="middle">2</text>
<text transform="translate(239.71 430.80) scale(0.955 1)" text-anchor="middle">4</text>
<text transform="translate(312.57 430.80) scale(0.955 1)" text-anchor="middle">6</text>
<text transform="translate(385.42 430.80) scale(0.955 1)" text-anchor="middle">8</text>
<text transform="translate(458.28 430.80) scale(0.955 1)" text-anchor="middle">10</text>
<text transform="translate(531.13 430.80) scale(0.955 1)" text-anchor="middle">12</text>
<text transform="translate(603.99 430.80) scale(0.955 1)" text-anchor="middle">14</text>
<text transform="translate(676.84 430.80) scale(0.955 1)" text-anchor="middle">16</text>
<text transform="translate(749.70 430.80) scale(0.955 1)" text-anchor="middle">18</text>
</g>
<rect x="246.50" y="29.00" width="489.20" height="97.70" fill="#fff" stroke="#000" stroke-width="1.6"/>
<g font-size="21.85" fill="#000" stroke="#000" stroke-width="0.2">
<path d="M260.50 45.30 H308.20" stroke="#b4c7e7" stroke-width="2.6" stroke-dasharray="7.25 11.05" stroke-dashoffset="-1.30" stroke-linecap="round" fill="none"/>
<text x="313.10" y="52.10">Triglycine (pH 3.1)</text>
<path d="M505.60 45.30 H553.40" stroke="#b4c7e7" stroke-width="2.6" fill="none"/>
<text x="558.40" y="52.10">NaCl (pH 3.1)</text>
<path d="M260.50 77.60 H308.20" stroke="#000" stroke-width="2.6" stroke-dasharray="4.95 5.48" stroke-dashoffset="-1.30" stroke-linecap="round" fill="none"/>
<text x="313.10" y="84.40">Triglycine (pH 4)</text>
<path d="M505.60 77.60 H553.40" stroke="#000" stroke-width="2.7" fill="none"/>
<text x="558.40" y="84.40">NaCl (pH 4)</text>
<path d="M260.50 110.80 H308.20" stroke="#7f7f7f" stroke-width="2.7" stroke-dasharray="7.15 11.15" stroke-dashoffset="-1.35" stroke-linecap="round" fill="none"/>
<text x="313.10" y="117.60">Triglycine (pH 6.5)</text>
<path d="M505.60 110.80 H553.40" stroke="#7f7f7f" stroke-width="2.6" fill="none"/>
<text x="558.40" y="117.60">NaCl (pH 6.5)</text>
</g>
<text x="428.50" y="467.70" font-size="29.30" font-weight="bold" text-anchor="middle" style="font-kerning:normal">DV (-)</text>
<text transform="translate(31.30 205.00) rotate(-90)" font-size="33.00" font-weight="bold" text-anchor="middle">Solute concentration (mM)</text>
<text x="2.00" y="468.30" font-size="25.20" font-weight="bold" textLength="35.6" lengthAdjust="spacingAndGlyphs">(A)</text>
<g stroke="#000" stroke-width="1.7" fill="none">
<path d="M89.10 504.20 H746.30 V895.30"/>
<path d="M95.30 504.20 V895.30"/>
<path d="M89.10 888.50 H746.30"/>
<path d="M89.10 850.07 H95.30"/>
<path d="M89.10 811.64 H95.30"/>
<path d="M89.10 773.21 H95.30"/>
<path d="M89.10 734.78 H95.30"/>
<path d="M89.10 696.35 H95.30"/>
<path d="M89.10 657.92 H95.30"/>
<path d="M89.10 619.49 H95.30"/>
<path d="M89.10 581.06 H95.30"/>
<path d="M89.10 542.63 H95.30"/>
<path d="M167.63 888.50 V895.30"/>
<path d="M239.97 888.50 V895.30"/>
<path d="M312.30 888.50 V895.30"/>
<path d="M384.63 888.50 V895.30"/>
<path d="M456.97 888.50 V895.30"/>
<path d="M529.30 888.50 V895.30"/>
<path d="M601.63 888.50 V895.30"/>
<path d="M673.97 888.50 V895.30"/>
</g>
<clipPath id="clipB"><rect x="95.00" y="503.90" width="651.60" height="384.90"/></clipPath>
<g fill="none" stroke-linejoin="round" clip-path="url(#clipB)">
<path d="M95.30,850.72 L97.56,850.73 L99.82,850.73 L102.08,850.73 L104.34,850.74 L106.60,850.74 L108.86,850.75 L111.12,850.75 L113.38,850.75 L115.64,850.76 L117.90,850.76 L120.16,850.76 L122.42,850.77 L124.69,850.77 L126.95,850.78 L129.21,850.78 L131.47,850.78 L133.73,850.79 L135.99,850.79 L138.25,850.79 L140.51,850.80 L142.77,850.80 L145.03,850.81 L147.29,850.81 L149.55,850.81 L151.81,850.82 L154.07,850.82 L156.33,850.82 L158.59,850.83 L160.85,850.83 L163.11,850.84 L165.37,850.84 L167.63,850.84 L169.89,850.85 L172.15,850.85 L174.41,850.85 L176.68,850.86 L178.94,850.86 L181.20,850.87 L183.46,850.87 L185.72,850.87 L187.98,850.88 L190.24,850.88 L192.50,850.88 L194.76,850.89 L197.02,850.89 L199.28,850.90 L201.54,850.90 L203.80,850.90 L206.06,850.91 L208.32,850.91 L210.58,850.91 L212.84,850.92 L215.10,850.92 L217.36,850.93 L219.62,850.93 L221.88,850.93 L224.14,850.94 L226.40,850.94 L228.66,850.94 L230.93,850.95 L233.19,850.95 L235.45,850.96 L237.71,850.96 L239.97,850.96 L242.23,850.97 L244.49,850.97 L246.75,850.97 L249.01,850.98 L251.27,850.98 L253.53,850.99 L255.79,850.99 L258.05,850.99 L260.31,851.00 L262.57,851.00 L264.83,851.00 L267.09,851.01 L269.35,851.01 L271.61,851.02 L273.87,851.02 L276.13,851.02 L278.39,851.03 L280.65,851.03 L282.91,851.03 L285.18,851.04 L287.44,851.04 L289.70,851.05 L291.96,851.05 L294.22,851.05 L296.48,851.06 L298.74,851.06 L301.00,851.06 L303.26,851.07 L305.52,851.07 L307.78,851.08 L310.04,851.08 L312.30,851.08 L314.56,851.09 L316.82,851.09 L319.08,851.09 L321.34,851.10 L323.60,851.10 L325.86,851.11 L328.12,851.11 L330.38,851.11 L332.64,851.12 L334.90,851.12 L337.16,851.12 L339.42,851.13 L341.69,851.13 L343.95,851.14 L346.21,851.14 L348.47,851.14 L350.73,851.15 L352.99,851.15 L355.25,851.15 L357.51,851.16 L359.77,851.16 L362.03,851.17 L364.29,851.17 L366.55,851.17 L368.81,851.18 L371.07,851.18 L373.33,851.18 L375.59,851.19 L377.85,851.19 L380.11,851.20 L382.37,851.20 L384.63,851.20 L386.89,851.21 L389.15,851.21 L391.41,851.21 L393.68,851.22 L395.94,851.22 L398.20,851.23 L400.46,851.23 L402.72,851.23 L404.98,851.24 L407.24,851.24 L409.50,851.24 L411.76,851.25 L414.02,851.25 L416.28,851.26 L418.54,851.26 L420.80,851.26 L423.06,851.27 L425.32,851.27 L427.58,851.27 L429.84,851.28 L432.10,851.28 L434.36,851.29 L436.62,851.29 L438.88,851.29 L441.14,851.30 L443.40,851.30 L445.66,851.30 L447.93,851.31 L450.19,851.31 L452.45,851.32 L454.71,851.32 L456.97,851.32 L459.23,851.33 L461.49,851.33 L463.75,851.33 L466.01,851.34 L468.27,851.34 L470.53,851.35 L472.79,851.35 L475.05,851.35 L477.31,851.36 L479.57,851.36 L481.83,851.36 L484.09,851.37 L486.35,851.37 L488.61,851.38 L490.87,851.38 L493.13,851.38 L495.39,851.39 L497.65,851.39 L499.91,851.39 L502.18,851.40 L504.44,851.40 L506.70,851.41 L508.96,851.41 L511.22,851.41 L513.48,851.42 L515.74,851.42 L518.00,851.42 L520.26,851.43 L522.52,851.43 L524.78,851.44 L527.04,851.44 L529.30,851.44 L531.56,851.45 L533.82,851.45 L536.08,851.45 L538.34,851.46 L540.60,851.46 L542.86,851.47 L545.12,851.47 L547.38,851.47 L549.64,851.48 L551.90,851.48 L554.16,851.48 L556.42,851.49 L558.69,851.49 L560.95,851.50 L563.21,851.50 L565.47,851.50 L567.73,851.51 L569.99,851.51 L572.25,851.51 L574.51,851.52 L576.77,851.52 L579.03,851.53 L581.29,851.53 L583.55,851.53 L585.81,851.54 L588.07,851.54 L590.33,851.54 L592.59,851.55 L594.85,851.55 L597.11,851.56 L599.37,851.56 L601.63,851.56 L603.89,851.57 L606.15,851.57 L608.41,851.57 L610.67,851.58 L612.94,851.58 L615.20,851.59 L617.46,851.59 L619.72,851.59 L621.98,851.60 L624.24,851.60 L626.50,851.60 L628.76,851.61 L631.02,851.61 L633.28,851.62 L635.54,851.62 L637.80,851.62 L640.06,851.63 L642.32,851.63 L644.58,851.63 L646.84,851.64 L649.10,851.64 L651.36,851.65 L653.62,851.65 L655.88,851.65 L658.14,851.66 L660.40,851.66 L662.66,851.66 L664.92,851.67 L667.19,851.67 L669.45,851.68 L671.71,851.68 L673.97,851.68" stroke="#b4c7e7" stroke-width="2.6" stroke-linecap="round" stroke-dasharray="7.25 11.05" stroke-dashoffset="-0.10"/>
<path d="M95.30,504.20 L97.56,511.27 L99.82,518.21 L102.08,525.02 L104.34,531.70 L106.60,538.26 L108.86,544.70 L111.12,551.03 L113.38,557.23 L115.64,563.33 L117.90,569.31 L120.16,575.18 L122.42,580.94 L124.69,586.60 L126.95,592.15 L129.21,597.60 L131.47,602.95 L133.73,608.20 L135.99,613.35 L138.25,618.42 L140.51,623.38 L142.77,628.26 L145.03,633.04 L147.29,637.74 L149.55,642.35 L151.81,646.88 L154.07,651.32 L156.33,655.69 L158.59,659.97 L160.85,664.17 L163.11,668.30 L165.37,672.35 L167.63,676.32 L169.89,680.22 L172.15,684.06 L174.41,687.82 L176.68,691.51 L178.94,695.13 L181.20,698.69 L183.46,702.18 L185.72,705.60 L187.98,708.97 L190.24,712.27 L192.50,715.51 L194.76,718.69 L197.02,721.81 L199.28,724.88 L201.54,727.89 L203.80,730.84 L206.06,733.74 L208.32,736.59 L210.58,739.38 L212.84,742.12 L215.10,744.82 L217.36,747.46 L219.62,750.05 L221.88,752.60 L224.14,755.10 L226.40,757.55 L228.66,759.96 L230.93,762.32 L233.19,764.65 L235.45,766.92 L237.71,769.16 L239.97,771.35 L242.23,773.51 L244.49,775.62 L246.75,777.70 L249.01,779.74 L251.27,781.74 L253.53,783.70 L255.79,785.63 L258.05,787.52 L260.31,789.38 L262.57,791.20 L264.83,792.99 L267.09,794.75 L269.35,796.47 L271.61,798.16 L273.87,799.82 L276.13,801.46 L278.39,803.06 L280.65,804.63 L282.91,806.17 L285.18,807.68 L287.44,809.17 L289.70,810.63 L291.96,812.06 L294.22,813.47 L296.48,814.85 L298.74,816.20 L301.00,817.53 L303.26,818.84 L305.52,820.12 L307.78,821.38 L310.04,822.61 L312.30,823.82 L314.56,825.01 L316.82,826.18 L319.08,827.33 L321.34,828.45 L323.60,829.55 L325.86,830.64 L328.12,831.70 L330.38,832.75 L332.64,833.77 L334.90,834.78 L337.16,835.77 L339.42,836.74 L341.69,837.69 L343.95,838.62 L346.21,839.54 L348.47,840.44 L350.73,841.33 L352.99,842.19 L355.25,843.04 L357.51,843.88 L359.77,844.70 L362.03,845.51 L364.29,846.30 L366.55,847.07 L368.81,847.84 L371.07,848.58 L373.33,849.32 L375.59,850.04 L377.85,850.75 L380.11,851.44 L382.37,852.12 L384.63,852.79 L386.89,853.45 L389.15,854.09 L391.41,854.72 L393.68,855.35 L395.94,855.96 L398.20,856.55 L400.46,857.14 L402.72,857.72 L404.98,858.28 L407.24,858.84 L409.50,859.39 L411.76,859.92 L414.02,860.45 L416.28,860.96 L418.54,861.47 L420.80,861.97 L423.06,862.45 L425.32,862.93 L427.58,863.40 L429.84,863.86 L432.10,864.32 L434.36,864.76 L436.62,865.20 L438.88,865.63 L441.14,866.05 L443.40,866.46 L445.66,866.87 L447.93,867.26 L450.19,867.66 L452.45,868.04 L454.71,868.41 L456.97,868.78 L459.23,869.15 L461.49,869.50 L463.75,869.85 L466.01,870.20 L468.27,870.53 L470.53,870.86 L472.79,871.19 L475.05,871.50 L477.31,871.82 L479.57,872.12 L481.83,872.43 L484.09,872.72 L486.35,873.01 L488.61,873.30 L490.87,873.58 L493.13,873.85 L495.39,874.12 L497.65,874.38 L499.91,874.64 L502.18,874.90 L504.44,875.15 L506.70,875.39 L508.96,875.64 L511.22,875.87 L513.48,876.10 L515.74,876.33 L518.00,876.56 L520.26,876.78 L522.52,876.99 L524.78,877.20 L527.04,877.41 L529.30,877.61 L531.56,877.81 L533.82,878.01 L536.08,878.20 L538.34,878.39 L540.60,878.58 L542.86,878.76 L545.12,878.94 L547.38,879.12 L549.64,879.29 L551.90,879.46 L554.16,879.63 L556.42,879.79 L558.69,879.95 L560.95,880.11 L563.21,880.26 L565.47,880.41 L567.73,880.56 L569.99,880.71 L572.25,880.85 L574.51,880.99 L576.77,881.13 L579.03,881.26 L581.29,881.40 L583.55,881.53 L585.81,881.66 L588.07,881.78 L590.33,881.91 L592.59,882.03 L594.85,882.15 L597.11,882.26 L599.37,882.38 L601.63,882.49 L603.89,882.60 L606.15,882.71 L608.41,882.82 L610.67,882.92 L612.94,883.02 L615.20,883.12 L617.46,883.22 L619.72,883.32 L621.98,883.41 L624.24,883.51 L626.50,883.60 L628.76,883.69 L631.02,883.78 L633.28,883.87 L635.54,883.95 L637.80,884.03 L640.06,884.12 L642.32,884.20 L644.58,884.28 L646.84,884.35 L649.10,884.43 L651.36,884.50 L653.62,884.58 L655.88,884.65 L658.14,884.72 L660.40,884.79 L662.66,884.86 L664.92,884.93 L667.19,884.99 L669.45,885.06 L671.71,885.12 L673.97,885.18" stroke="#b4c7e7" stroke-width="2.6"/>
<path d="M95.30,850.72 L97.56,850.73 L99.82,850.73 L102.08,850.73 L104.34,850.74 L106.60,850.74 L108.86,850.75 L111.12,850.75 L113.38,850.75 L115.64,850.76 L117.90,850.76 L120.16,850.76 L122.42,850.77 L124.69,850.77 L126.95,850.78 L129.21,850.78 L131.47,850.78 L133.73,850.79 L135.99,850.79 L138.25,850.79 L140.51,850.80 L142.77,850.80 L145.03,850.81 L147.29,850.81 L149.55,850.81 L151.81,850.82 L154.07,850.82 L156.33,850.82 L158.59,850.83 L160.85,850.83 L163.11,850.84 L165.37,850.84 L167.63,850.84 L169.89,850.85 L172.15,850.85 L174.41,850.85 L176.68,850.86 L178.94,850.86 L181.20,850.87 L183.46,850.87 L185.72,850.87 L187.98,850.88 L190.24,850.88 L192.50,850.88 L194.76,850.89 L197.02,850.89 L199.28,850.90 L201.54,850.90 L203.80,850.90 L206.06,850.91 L208.32,850.91 L210.58,850.91 L212.84,850.92 L215.10,850.92 L217.36,850.93 L219.62,850.93 L221.88,850.93 L224.14,850.94 L226.40,850.94 L228.66,850.94 L230.93,850.95 L233.19,850.95 L235.45,850.96 L237.71,850.96 L239.97,850.96 L242.23,850.97 L244.49,850.97 L246.75,850.97 L249.01,850.98 L251.27,850.98 L253.53,850.99 L255.79,850.99 L258.05,850.99 L260.31,851.00 L262.57,851.00 L264.83,851.00 L267.09,851.01 L269.35,851.01 L271.61,851.02 L273.87,851.02 L276.13,851.02 L278.39,851.03 L280.65,851.03 L282.91,851.03 L285.18,851.04 L287.44,851.04 L289.70,851.05 L291.96,851.05 L294.22,851.05 L296.48,851.06 L298.74,851.06 L301.00,851.06 L303.26,851.07 L305.52,851.07 L307.78,851.08 L310.04,851.08 L312.30,851.08 L314.56,851.09 L316.82,851.09 L319.08,851.09 L321.34,851.10 L323.60,851.10 L325.86,851.11 L328.12,851.11 L330.38,851.11 L332.64,851.12 L334.90,851.12 L337.16,851.12 L339.42,851.13 L341.69,851.13 L343.95,851.14 L346.21,851.14 L348.47,851.14 L350.73,851.15 L352.99,851.15 L355.25,851.15 L357.51,851.16 L359.77,851.16 L362.03,851.17 L364.29,851.17 L366.55,851.17 L368.81,851.18 L371.07,851.18 L373.33,851.18 L375.59,851.19 L377.85,851.19 L380.11,851.20 L382.37,851.20 L384.63,851.20 L386.89,851.21 L389.15,851.21 L391.41,851.21 L393.68,851.22 L395.94,851.22 L398.20,851.23 L400.46,851.23 L402.72,851.23 L404.98,851.24 L407.24,851.24 L409.50,851.24 L411.76,851.25 L414.02,851.25 L416.28,851.26 L418.54,851.26 L420.80,851.26 L423.06,851.27 L425.32,851.27 L427.58,851.27 L429.84,851.28 L432.10,851.28 L434.36,851.29 L436.62,851.29 L438.88,851.29 L441.14,851.30 L443.40,851.30 L445.66,851.30 L447.93,851.31 L450.19,851.31 L452.45,851.32 L454.71,851.32 L456.97,851.32 L459.23,851.33 L461.49,851.33 L463.75,851.33 L466.01,851.34 L468.27,851.34 L470.53,851.35 L472.79,851.35 L475.05,851.35 L477.31,851.36 L479.57,851.36 L481.83,851.36 L484.09,851.37 L486.35,851.37 L488.61,851.38 L490.87,851.38 L493.13,851.38 L495.39,851.39 L497.65,851.39 L499.91,851.39 L502.18,851.40 L504.44,851.40 L506.70,851.41 L508.96,851.41 L511.22,851.41 L513.48,851.42 L515.74,851.42 L518.00,851.42 L520.26,851.43 L522.52,851.43 L524.78,851.44 L527.04,851.44 L529.30,851.44 L531.56,851.45 L533.82,851.45 L536.08,851.45 L538.34,851.46 L540.60,851.46 L542.86,851.47 L545.12,851.47 L547.38,851.47 L549.64,851.48 L551.90,851.48 L554.16,851.48 L556.42,851.49 L558.69,851.49 L560.95,851.50 L563.21,851.50 L565.47,851.50 L567.73,851.51 L569.99,851.51 L572.25,851.51 L574.51,851.52 L576.77,851.52 L579.03,851.53 L581.29,851.53 L583.55,851.53 L585.81,851.54 L588.07,851.54 L590.33,851.54 L592.59,851.55 L594.85,851.55 L597.11,851.56 L599.37,851.56 L601.63,851.56 L603.89,851.57 L606.15,851.57 L608.41,851.57 L610.67,851.58 L612.94,851.58 L615.20,851.59 L617.46,851.59 L619.72,851.59 L621.98,851.60 L624.24,851.60 L626.50,851.60 L628.76,851.61 L631.02,851.61 L633.28,851.62 L635.54,851.62 L637.80,851.62 L640.06,851.63 L642.32,851.63 L644.58,851.63 L646.84,851.64 L649.10,851.64 L651.36,851.65 L653.62,851.65 L655.88,851.65 L658.14,851.66 L660.40,851.66 L662.66,851.66 L664.92,851.67 L667.19,851.67 L669.45,851.68 L671.71,851.68 L673.97,851.68" stroke="#000" stroke-width="2.6" stroke-linecap="round" stroke-dasharray="4.95 5.48" stroke-dashoffset="0.14"/>
<path d="M95.30,504.20 L97.56,514.97 L99.82,525.45 L102.08,535.63 L104.34,545.52 L106.60,555.14 L108.86,564.48 L111.12,573.57 L113.38,582.40 L115.64,590.98 L117.90,599.32 L120.16,607.43 L122.42,615.31 L124.69,622.97 L126.95,630.41 L129.21,637.65 L131.47,644.68 L133.73,651.52 L135.99,658.16 L138.25,664.62 L140.51,670.90 L142.77,677.00 L145.03,682.93 L147.29,688.69 L149.55,694.29 L151.81,699.74 L154.07,705.03 L156.33,710.17 L158.59,715.17 L160.85,720.03 L163.11,724.76 L165.37,729.35 L167.63,733.81 L169.89,738.15 L172.15,742.36 L174.41,746.46 L176.68,750.44 L178.94,754.31 L181.20,758.07 L183.46,761.73 L185.72,765.29 L187.98,768.74 L190.24,772.10 L192.50,775.36 L194.76,778.53 L197.02,781.62 L199.28,784.61 L201.54,787.53 L203.80,790.36 L206.06,793.11 L208.32,795.78 L210.58,798.38 L212.84,800.91 L215.10,803.37 L217.36,805.75 L219.62,808.07 L221.88,810.33 L224.14,812.52 L226.40,814.65 L228.66,816.72 L230.93,818.73 L233.19,820.69 L235.45,822.59 L237.71,824.44 L239.97,826.23 L242.23,827.98 L244.49,829.68 L246.75,831.33 L249.01,832.93 L251.27,834.49 L253.53,836.00 L255.79,837.47 L258.05,838.90 L260.31,840.29 L262.57,841.65 L264.83,842.96 L267.09,844.24 L269.35,845.48 L271.61,846.68 L273.87,847.86 L276.13,849.00 L278.39,850.10 L280.65,851.18 L282.91,852.23 L285.18,853.24 L287.44,854.23 L289.70,855.19 L291.96,856.13 L294.22,857.03 L296.48,857.92 L298.74,858.77 L301.00,859.61 L303.26,860.42 L305.52,861.20 L307.78,861.97 L310.04,862.71 L312.30,863.44 L314.56,864.14 L316.82,864.82 L319.08,865.49 L321.34,866.13 L323.60,866.76 L325.86,867.37 L328.12,867.96 L330.38,868.54 L332.64,869.10 L334.90,869.64 L337.16,870.17 L339.42,870.68 L341.69,871.18 L343.95,871.67 L346.21,872.14 L348.47,872.60 L350.73,873.04 L352.99,873.48 L355.25,873.90 L357.51,874.31 L359.77,874.71 L362.03,875.09 L364.29,875.47 L366.55,875.83 L368.81,876.19 L371.07,876.53 L373.33,876.87 L375.59,877.20 L377.85,877.51 L380.11,877.82 L382.37,878.12 L384.63,878.41 L386.89,878.69 L389.15,878.97 L391.41,879.24 L393.68,879.50 L395.94,879.75 L398.20,879.99 L400.46,880.23 L402.72,880.46 L404.98,880.69 L407.24,880.91 L409.50,881.12 L411.76,881.33 L414.02,881.53 L416.28,881.72 L418.54,881.91 L420.80,882.10 L423.06,882.28 L425.32,882.45 L427.58,882.62 L429.84,882.79 L432.10,882.95 L434.36,883.10 L436.62,883.25 L438.88,883.40 L441.14,883.54 L443.40,883.68 L445.66,883.82 L447.93,883.95 L450.19,884.08 L452.45,884.20 L454.71,884.32 L456.97,884.44 L459.23,884.55 L461.49,884.66 L463.75,884.77 L466.01,884.88 L468.27,884.98 L470.53,885.08 L472.79,885.17 L475.05,885.27 L477.31,885.36 L479.57,885.44 L481.83,885.53 L484.09,885.61 L486.35,885.69 L488.61,885.77 L490.87,885.85 L493.13,885.92 L495.39,886.00 L497.65,886.07 L499.91,886.13 L502.18,886.20 L504.44,886.27 L506.70,886.33 L508.96,886.39 L511.22,886.45 L513.48,886.51 L515.74,886.56 L518.00,886.62 L520.26,886.67 L522.52,886.72 L524.78,886.77 L527.04,886.82 L529.30,886.87 L531.56,886.91 L533.82,886.96 L536.08,887.00 L538.34,887.04 L540.60,887.08 L542.86,887.12 L545.12,887.16 L547.38,887.20 L549.64,887.23 L551.90,887.27 L554.16,887.30 L556.42,887.34 L558.69,887.37 L560.95,887.40 L563.21,887.43 L565.47,887.46 L567.73,887.49 L569.99,887.52 L572.25,887.55 L574.51,887.57 L576.77,887.60 L579.03,887.63 L581.29,887.65 L583.55,887.67 L585.81,887.70 L588.07,887.72 L590.33,887.74 L592.59,887.76 L594.85,887.78 L597.11,887.80 L599.37,887.82 L601.63,887.84 L603.89,887.86 L606.15,887.88 L608.41,887.90 L610.67,887.91 L612.94,887.93 L615.20,887.95 L617.46,887.96 L619.72,887.98 L621.98,887.99 L624.24,888.00 L626.50,888.02 L628.76,888.03 L631.02,888.05 L633.28,888.06 L635.54,888.07 L637.80,888.08 L640.06,888.09 L642.32,888.11 L644.58,888.12 L646.84,888.13 L649.10,888.14 L651.36,888.15 L653.62,888.16 L655.88,888.17 L658.14,888.18 L660.40,888.19 L662.66,888.19 L664.92,888.20 L667.19,888.21 L669.45,888.22 L671.71,888.23 L673.97,888.24" stroke="#000" stroke-width="2.7"/>
<path d="M95.30,850.72 L97.56,850.73 L99.82,850.73 L102.08,850.73 L104.34,850.74 L106.60,850.74 L108.86,850.75 L111.12,850.75 L113.38,850.75 L115.64,850.76 L117.90,850.76 L120.16,850.76 L122.42,850.77 L124.69,850.77 L126.95,850.78 L129.21,850.78 L131.47,850.78 L133.73,850.79 L135.99,850.79 L138.25,850.79 L140.51,850.80 L142.77,850.80 L145.03,850.81 L147.29,850.81 L149.55,850.81 L151.81,850.82 L154.07,850.82 L156.33,850.82 L158.59,850.83 L160.85,850.83 L163.11,850.84 L165.37,850.84 L167.63,850.84 L169.89,850.85 L172.15,850.85 L174.41,850.85 L176.68,850.86 L178.94,850.86 L181.20,850.87 L183.46,850.87 L185.72,850.87 L187.98,850.88 L190.24,850.88 L192.50,850.88 L194.76,850.89 L197.02,850.89 L199.28,850.90 L201.54,850.90 L203.80,850.90 L206.06,850.91 L208.32,850.91 L210.58,850.91 L212.84,850.92 L215.10,850.92 L217.36,850.93 L219.62,850.93 L221.88,850.93 L224.14,850.94 L226.40,850.94 L228.66,850.94 L230.93,850.95 L233.19,850.95 L235.45,850.96 L237.71,850.96 L239.97,850.96 L242.23,850.97 L244.49,850.97 L246.75,850.97 L249.01,850.98 L251.27,850.98 L253.53,850.99 L255.79,850.99 L258.05,850.99 L260.31,851.00 L262.57,851.00 L264.83,851.00 L267.09,851.01 L269.35,851.01 L271.61,851.02 L273.87,851.02 L276.13,851.02 L278.39,851.03 L280.65,851.03 L282.91,851.03 L285.18,851.04 L287.44,851.04 L289.70,851.05 L291.96,851.05 L294.22,851.05 L296.48,851.06 L298.74,851.06 L301.00,851.06 L303.26,851.07 L305.52,851.07 L307.78,851.08 L310.04,851.08 L312.30,851.08 L314.56,851.09 L316.82,851.09 L319.08,851.09 L321.34,851.10 L323.60,851.10 L325.86,851.11 L328.12,851.11 L330.38,851.11 L332.64,851.12 L334.90,851.12 L337.16,851.12 L339.42,851.13 L341.69,851.13 L343.95,851.14 L346.21,851.14 L348.47,851.14 L350.73,851.15 L352.99,851.15 L355.25,851.15 L357.51,851.16 L359.77,851.16 L362.03,851.17 L364.29,851.17 L366.55,851.17 L368.81,851.18 L371.07,851.18 L373.33,851.18 L375.59,851.19 L377.85,851.19 L380.11,851.20 L382.37,851.20 L384.63,851.20 L386.89,851.21 L389.15,851.21 L391.41,851.21 L393.68,851.22 L395.94,851.22 L398.20,851.23 L400.46,851.23 L402.72,851.23 L404.98,851.24 L407.24,851.24 L409.50,851.24 L411.76,851.25 L414.02,851.25 L416.28,851.26 L418.54,851.26 L420.80,851.26 L423.06,851.27 L425.32,851.27 L427.58,851.27 L429.84,851.28 L432.10,851.28 L434.36,851.29 L436.62,851.29 L438.88,851.29 L441.14,851.30 L443.40,851.30 L445.66,851.30 L447.93,851.31 L450.19,851.31 L452.45,851.32 L454.71,851.32 L456.97,851.32 L459.23,851.33 L461.49,851.33 L463.75,851.33 L466.01,851.34 L468.27,851.34 L470.53,851.35 L472.79,851.35 L475.05,851.35 L477.31,851.36 L479.57,851.36 L481.83,851.36 L484.09,851.37 L486.35,851.37 L488.61,851.38 L490.87,851.38 L493.13,851.38 L495.39,851.39 L497.65,851.39 L499.91,851.39 L502.18,851.40 L504.44,851.40 L506.70,851.41 L508.96,851.41 L511.22,851.41 L513.48,851.42 L515.74,851.42 L518.00,851.42 L520.26,851.43 L522.52,851.43 L524.78,851.44 L527.04,851.44 L529.30,851.44 L531.56,851.45 L533.82,851.45 L536.08,851.45 L538.34,851.46 L540.60,851.46 L542.86,851.47 L545.12,851.47 L547.38,851.47 L549.64,851.48 L551.90,851.48 L554.16,851.48 L556.42,851.49 L558.69,851.49 L560.95,851.50 L563.21,851.50 L565.47,851.50 L567.73,851.51 L569.99,851.51 L572.25,851.51 L574.51,851.52 L576.77,851.52 L579.03,851.53 L581.29,851.53 L583.55,851.53 L585.81,851.54 L588.07,851.54 L590.33,851.54 L592.59,851.55 L594.85,851.55 L597.11,851.56 L599.37,851.56 L601.63,851.56 L603.89,851.57 L606.15,851.57 L608.41,851.57 L610.67,851.58 L612.94,851.58 L615.20,851.59 L617.46,851.59 L619.72,851.59 L621.98,851.60 L624.24,851.60 L626.50,851.60 L628.76,851.61 L631.02,851.61 L633.28,851.62 L635.54,851.62 L637.80,851.62 L640.06,851.63 L642.32,851.63 L644.58,851.63 L646.84,851.64 L649.10,851.64 L651.36,851.65 L653.62,851.65 L655.88,851.65 L658.14,851.66 L660.40,851.66 L662.66,851.66 L664.92,851.67 L667.19,851.67 L669.45,851.68 L671.71,851.68 L673.97,851.68" stroke="#7f7f7f" stroke-width="2.7" stroke-linecap="round" stroke-dasharray="7.15 11.15" stroke-dashoffset="-0.15"/>
<path d="M95.30,504.20 L97.56,513.03 L99.82,521.66 L102.08,530.09 L104.34,538.33 L106.60,546.38 L108.86,554.24 L111.12,561.92 L113.38,569.43 L115.64,576.76 L117.90,583.92 L120.16,590.92 L122.42,597.76 L124.69,604.44 L126.95,610.97 L129.21,617.35 L131.47,623.58 L133.73,629.67 L135.99,635.62 L138.25,641.43 L140.51,647.11 L142.77,652.66 L145.03,658.08 L147.29,663.37 L149.55,668.54 L151.81,673.60 L154.07,678.54 L156.33,683.36 L158.59,688.08 L160.85,692.68 L163.11,697.18 L165.37,701.58 L167.63,705.88 L169.89,710.07 L172.15,714.17 L174.41,718.18 L176.68,722.10 L178.94,725.92 L181.20,729.66 L183.46,733.31 L185.72,736.87 L187.98,740.36 L190.24,743.76 L192.50,747.09 L194.76,750.34 L197.02,753.51 L199.28,756.62 L201.54,759.65 L203.80,762.61 L206.06,765.50 L208.32,768.33 L210.58,771.09 L212.84,773.79 L215.10,776.42 L217.36,779.00 L219.62,781.52 L221.88,783.98 L224.14,786.38 L226.40,788.72 L228.66,791.02 L230.93,793.26 L233.19,795.45 L235.45,797.59 L237.71,799.67 L239.97,801.72 L242.23,803.71 L244.49,805.66 L246.75,807.56 L249.01,809.42 L251.27,811.24 L253.53,813.02 L255.79,814.75 L258.05,816.45 L260.31,818.10 L262.57,819.72 L264.83,821.30 L267.09,822.84 L269.35,824.35 L271.61,825.83 L273.87,827.27 L276.13,828.68 L278.39,830.05 L280.65,831.39 L282.91,832.71 L285.18,833.99 L287.44,835.24 L289.70,836.46 L291.96,837.66 L294.22,838.83 L296.48,839.97 L298.74,841.09 L301.00,842.18 L303.26,843.24 L305.52,844.28 L307.78,845.30 L310.04,846.29 L312.30,847.26 L314.56,848.21 L316.82,849.13 L319.08,850.04 L321.34,850.92 L323.60,851.79 L325.86,852.63 L328.12,853.45 L330.38,854.26 L332.64,855.05 L334.90,855.81 L337.16,856.57 L339.42,857.30 L341.69,858.02 L343.95,858.72 L346.21,859.40 L348.47,860.07 L350.73,860.72 L352.99,861.36 L355.25,861.99 L357.51,862.60 L359.77,863.19 L362.03,863.77 L364.29,864.34 L366.55,864.90 L368.81,865.44 L371.07,865.97 L373.33,866.49 L375.59,866.99 L377.85,867.49 L380.11,867.97 L382.37,868.44 L384.63,868.90 L386.89,869.35 L389.15,869.79 L391.41,870.22 L393.68,870.64 L395.94,871.05 L398.20,871.45 L400.46,871.85 L402.72,872.23 L404.98,872.60 L407.24,872.97 L409.50,873.32 L411.76,873.67 L414.02,874.01 L416.28,874.35 L418.54,874.67 L420.80,874.99 L423.06,875.30 L425.32,875.60 L427.58,875.90 L429.84,876.19 L432.10,876.47 L434.36,876.75 L436.62,877.02 L438.88,877.28 L441.14,877.54 L443.40,877.79 L445.66,878.04 L447.93,878.28 L450.19,878.51 L452.45,878.74 L454.71,878.97 L456.97,879.19 L459.23,879.40 L461.49,879.61 L463.75,879.81 L466.01,880.01 L468.27,880.21 L470.53,880.40 L472.79,880.59 L475.05,880.77 L477.31,880.95 L479.57,881.12 L481.83,881.29 L484.09,881.45 L486.35,881.62 L488.61,881.77 L490.87,881.93 L493.13,882.08 L495.39,882.23 L497.65,882.37 L499.91,882.51 L502.18,882.65 L504.44,882.78 L506.70,882.92 L508.96,883.04 L511.22,883.17 L513.48,883.29 L515.74,883.41 L518.00,883.53 L520.26,883.64 L522.52,883.75 L524.78,883.86 L527.04,883.97 L529.30,884.07 L531.56,884.18 L533.82,884.28 L536.08,884.37 L538.34,884.47 L540.60,884.56 L542.86,884.65 L545.12,884.74 L547.38,884.83 L549.64,884.91 L551.90,884.99 L554.16,885.07 L556.42,885.15 L558.69,885.23 L560.95,885.30 L563.21,885.38 L565.47,885.45 L567.73,885.52 L569.99,885.59 L572.25,885.65 L574.51,885.72 L576.77,885.78 L579.03,885.85 L581.29,885.91 L583.55,885.97 L585.81,886.03 L588.07,886.08 L590.33,886.14 L592.59,886.19 L594.85,886.24 L597.11,886.30 L599.37,886.35 L601.63,886.40 L603.89,886.45 L606.15,886.49 L608.41,886.54 L610.67,886.58 L612.94,886.63 L615.20,886.67 L617.46,886.71 L619.72,886.75 L621.98,886.79 L624.24,886.83 L626.50,886.87 L628.76,886.91 L631.02,886.95 L633.28,886.98 L635.54,887.02 L637.80,887.05 L640.06,887.08 L642.32,887.12 L644.58,887.15 L646.84,887.18 L649.10,887.21 L651.36,887.24 L653.62,887.27 L655.88,887.30 L658.14,887.32 L660.40,887.35 L662.66,887.38 L664.92,887.40 L667.19,887.43 L669.45,887.45 L671.71,887.48 L673.97,887.50" stroke="#7f7f7f" stroke-width="2.6"/>
</g>
<g font-size="22.83" fill="#000" stroke="#000" stroke-width="0.2">
<text transform="translate(75.90 895.40) scale(0.955 1)" text-anchor="end">0</text>
<text transform="translate(75.90 856.97) scale(0.955 1)" text-anchor="end">10</text>
<text transform="translate(75.90 818.54) scale(0.955 1)" text-anchor="end">20</text>
<text transform="translate(75.90 780.11) scale(0.955 1)" text-anchor="end">30</text>
<text transform="translate(75.90 741.68) scale(0.955 1)" text-anchor="end">40</text>
<text transform="translate(75.90 703.25) scale(0.955 1)" text-anchor="end">50</text>
<text transform="translate(75.90 664.82) scale(0.955 1)" text-anchor="end">60</text>
<text transform="translate(75.90 626.39) scale(0.955 1)" text-anchor="end">70</text>
<text transform="translate(75.90 587.96) scale(0.955 1)" text-anchor="end">80</text>
<text transform="translate(75.90 549.53) scale(0.955 1)" text-anchor="end">90</text>
<text transform="translate(75.90 511.10) scale(0.955 1)" text-anchor="end">100</text>
<text transform="translate(95.30 921.00) scale(0.955 1)" text-anchor="middle">0</text>
<text transform="translate(167.63 921.00) scale(0.955 1)" text-anchor="middle">2</text>
<text transform="translate(239.97 921.00) scale(0.955 1)" text-anchor="middle">4</text>
<text transform="translate(312.30 921.00) scale(0.955 1)" text-anchor="middle">6</text>
<text transform="translate(384.63 921.00) scale(0.955 1)" text-anchor="middle">8</text>
<text transform="translate(456.97 921.00) scale(0.955 1)" text-anchor="middle">10</text>
<text transform="translate(529.30 921.00) scale(0.955 1)" text-anchor="middle">12</text>
<text transform="translate(601.63 921.00) scale(0.955 1)" text-anchor="middle">14</text>
<text transform="translate(673.97 921.00) scale(0.955 1)" text-anchor="middle">16</text>
<text transform="translate(746.30 921.00) scale(0.955 1)" text-anchor="middle">18</text>
</g>
<rect x="248.40" y="517.70" width="478.70" height="97.30" fill="#fff" stroke="#000" stroke-width="1.6"/>
<g font-size="21.70" fill="#000" stroke="#000" stroke-width="0.2">
<path d="M260.00 534.30 H308.00" stroke="#b4c7e7" stroke-width="2.6" stroke-dasharray="7.25 11.05" stroke-dashoffset="-1.30" stroke-linecap="round" fill="none"/>
<text x="312.20" y="541.10">Triglycine (pH 3.5)</text>
<path d="M500.30 534.30 H547.30" stroke="#b4c7e7" stroke-width="2.6" fill="none"/>
<text x="551.60" y="541.10">NaCl (pH 3.5)</text>
<path d="M260.00 566.30 H308.00" stroke="#000" stroke-width="2.6" stroke-dasharray="4.95 5.48" stroke-dashoffset="-1.30" stroke-linecap="round" fill="none"/>
<text x="312.20" y="573.10">Triglycine (pH 4.1)</text>
<path d="M500.30 566.30 H547.30" stroke="#000" stroke-width="2.7" fill="none"/>
<text x="551.60" y="573.10">NaCl (pH 4.1)</text>
<path d="M260.00 599.40 H308.00" stroke="#7f7f7f" stroke-width="2.7" stroke-dasharray="7.15 11.15" stroke-dashoffset="-1.35" stroke-linecap="round" fill="none"/>
<text x="312.20" y="606.20">Triglycine (pH 6.2)</text>
<path d="M500.30 599.40 H547.30" stroke="#7f7f7f" stroke-width="2.6" fill="none"/>
<text x="551.60" y="606.20">NaCl (pH 6.2)</text>
</g>
<text x="427.00" y="958.00" font-size="29.09" font-weight="bold" text-anchor="middle" style="font-kerning:normal">DV (-)</text>
<text transform="translate(31.90 697.20) rotate(-90)" font-size="32.77" font-weight="bold" text-anchor="middle">Solute concentration (mM)</text>
<text x="2.90" y="958.30" font-size="25.02" font-weight="bold" textLength="35.4" lengthAdjust="spacingAndGlyphs">(B)</text>
</svg></body></html>
